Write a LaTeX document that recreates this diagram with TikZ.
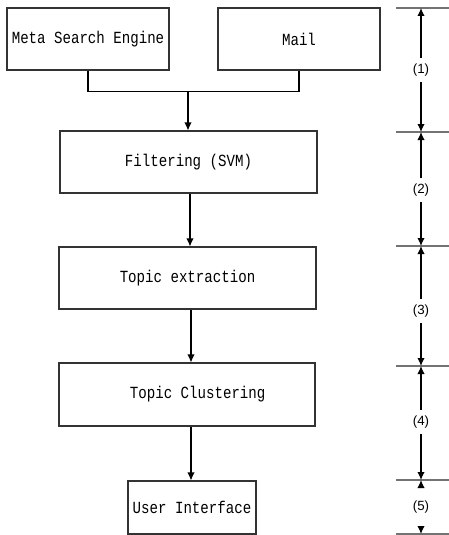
\documentclass[tikz,border=0pt]{standalone}
\usepackage{fontspec}
\setmainfont{Liberation Mono}[FakeStretch=0.83]
\newfontfamily\dimfont{Liberation Sans}
\usepackage{tikz}
\usetikzlibrary{arrows.meta,positioning}

\tikzset{
  stage/.style={draw=black!80, line width=0.8pt, inner sep=0pt,
    font=\fontsize{12.75}{15}\selectfont},
  tick/.style={draw=black!55, line width=0.8pt},
  dimlabel/.style={inner sep=1pt, font=\dimfont\fontsize{10}{12}\selectfont},
}

\begin{document}
\begin{tikzpicture}[x=0.75pt, y=-0.75pt, >={Latex[length=6pt,width=5.5pt]}, line width=0.8pt]
\useasboundingbox (0,0) rectangle (449,535);

% sources
\node[stage, minimum width=121.5pt, minimum height=46.5pt] (meta) at (88,39) {Meta Search Engine};
\node[stage, minimum width=121.5pt, minimum height=46.5pt] (mail) at (299,39) {Mail};

% pipeline
\node[stage, minimum width=192.75pt, minimum height=46.5pt] (filter) at (188.5,162) {Filtering (SVM)};
\node[stage, minimum width=192.75pt, minimum height=46.5pt] (extract) at (187.5,278) {Topic extraction};
\node[stage, minimum width=192pt, minimum height=47.25pt] (cluster) at (187,394.5) {\hspace{16pt}Topic Clustering};
\node[stage, minimum width=96pt, minimum height=39.75pt] (ui) at (192,507.5) {User Interface};

\coordinate (join) at (188,91);
\draw (meta.south) -- ++(0,21) -| (mail.south);
\draw[->] (join) -- (filter.north -| join);
\draw[->] (filter.south -| 190,0) -- (extract.north -| 190,0);
\draw[->] (extract.south -| 191,0) -- (cluster.north -| 191,0);
\draw[->] (cluster.south -| 191,0) -- (ui.north -| 191,0);

% step ticks on the right
\foreach \name/\y in {t0/8, t1/132, t2/246, t3/366, t4/480, t5/534} {
  \coordinate (\name) at (421,\y);
  \draw[tick] (396,\y) -- (449,\y);
}

\node[dimlabel, inner ysep=4pt] (l1) at (421,70) {(1)};
\node[dimlabel, inner ysep=4pt] (l2) at (421,190) {(2)};
\node[dimlabel, inner ysep=4pt] (l3) at (421,311) {(3)};
\node[dimlabel, inner ysep=4pt] (l4) at (421,422) {(4)};
\node[dimlabel, inner ysep=9pt] (l5) at (421,507) {(5)};

\draw[->] (l1) -- (t0);
\draw[->] (l1) -- (t1);
\draw[->] (l2) -- (t1);
\draw[->] (l2) -- (t2);
\draw[->] (l3) -- (t2);
\draw[->] (l3) -- (t3);
\draw[->] (l4) -- (t3);
\draw[->] (l4) -- (t4);
\draw[->] (l5) -- (t4);
\draw[->] (l5) -- (t5);
\end{tikzpicture}
\end{document}
